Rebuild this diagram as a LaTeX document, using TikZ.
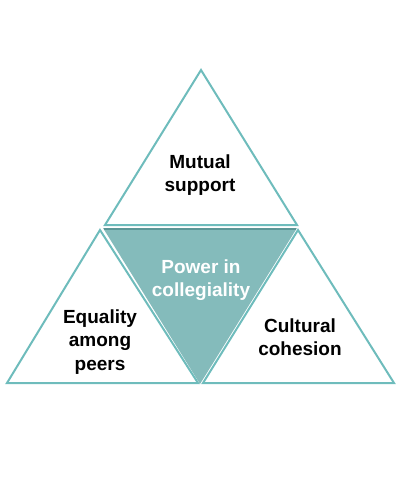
\documentclass[tikz,border=0pt]{standalone}
\usepackage{fontspec}
\setmainfont{Liberation Sans}
\definecolor{tealline}{RGB}{110,188,188}
\definecolor{tealfill}{RGB}{132,187,187}
\definecolor{tealdark}{RGB}{92,150,150}
\tikzset{
  tri/.style={draw=tealline, line width=2pt, fill=white, line join=miter},
  lbl/.style={font=\fontsize{19}{23.5}\selectfont\bfseries, align=center, text=black},
  lblw/.style={lbl, text=white}
}
\begin{document}
\begin{tikzpicture}[x=1pt,y=-1pt]
\useasboundingbox (0,0) rectangle (400,500);
% top triangle
\draw[tri] (201,70) -- (297,225) -- (105,225) -- cycle;
% bottom-left
\draw[tri] (100,230) -- (198,383) -- (7,383) -- cycle;
% bottom-right
\draw[tri] (298,230) -- (394,383) -- (203,383) -- cycle;
% center inverted
\fill[tealfill] (103,228) -- (297,228) -- (200,384) -- cycle;
\draw[tealdark, line width=2.5pt] (104,229) -- (296,229);
\node[lbl] (ms) at (200,175) {Mutual\\support};
\node[lblw] (pc) at (201,280) {Power in\\collegiality};
\node[lbl] (ep) at (100,342) {Equality\\among\\peers};
\node[lbl] (cc) at (300,337) {Cultural\\cohesion};
\end{tikzpicture}
\end{document}
